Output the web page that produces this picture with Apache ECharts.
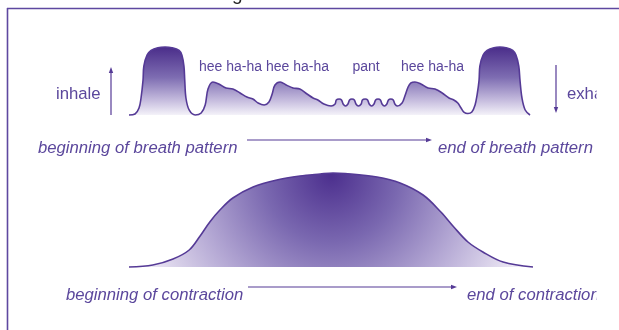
<!DOCTYPE html>
<html>
<head>
<meta charset="utf-8">
<script src="https://cdn.jsdelivr.net/npm/echarts@6/dist/echarts.min.js"></script>
<style>
  html, body { margin: 0; padding: 0; background: #ffffff; }
  #chart { width: 619px; height: 330px; }
</style>
</head>
<body>
<div id="chart"></div>
<script>
// ---- Breath pattern: time (% of pattern) vs. amplitude (%) ----
var breathTime = [
  0, 1.5, 2.5, 3.0, 3.5, 3.7, 4.5, 5.5, 7.2, 9.0, 10.7, 12.5, 13.2, 13.7, 13.9, 14.2, 15.0, 16.5,
  18.0, 19.0, 19.7, 20.9, 22.4, 24.2, 25.9, 27.7, 29.4, 30.9, 32.2, 33.7,
  34.9, 35.7, 36.4, 37.7, 39.2, 40.9, 42.6, 44.4, 45.9, 47.1, 48.6, 50.4,
  51.4, 51.7, 52.4, 53.0, 53.4, 54.0,
  54.6, 55.0, 55.6, 56.2, 56.6, 57.2,
  57.9, 58.2, 58.9, 59.5, 59.9, 60.5,
  61.1, 61.5, 62.1, 62.7, 63.1, 63.7,
  64.3, 64.7, 65.3, 65.9, 66.3, 66.9,
  68.1, 68.8, 69.6, 70.3, 71.3, 72.8, 74.6, 76.3, 78.1, 79.8, 81.0, 82.0, 82.8, 83.5,
  84.5, 85.5, 86.3, 86.8, 87.3, 87.5, 88.3, 89.3, 91.0, 92.5, 94.0, 95.7, 96.5, 97.2, 97.5, 98.0, 98.8, 100
];
var breathLevel = [
  0, 1.5, 10.3, 25, 51.5, 72, 88, 95, 99, 100, 99, 95, 88, 72, 51.5, 25, 7.4, 0,
  3, 14.7, 38.2, 48.5, 45.6, 39.7, 38.2, 32.4, 26.5, 23.5, 17.6, 14.7,
  19.1, 30.9, 44.1, 48.5, 44.1, 39.7, 38.2, 30.9, 25, 22.1, 16.2, 13.2,
  16.2, 22.1, 23.5, 22.1, 16.2, 13.2,
  16.2, 22.1, 23.5, 22.1, 16.2, 13.2,
  16.2, 22.1, 23.5, 22.1, 16.2, 13.2,
  16.2, 22.1, 23.5, 22.1, 16.2, 13.2,
  16.2, 22.1, 23.5, 22.1, 16.2, 13.2,
  17.6, 27.9, 41.2, 47.1, 48.5, 45.6, 39.7, 38.2, 32.4, 25, 22.1, 17.6, 10.3, 4.4,
  2.2, 4.4, 14.7, 29.4, 51.5, 72, 88, 95, 99, 100, 99, 95, 88, 72, 51.5, 25, 7.4, 0
];
var breathLabels = ['hee ha-ha hee ha-ha', 'pant', 'hee ha-ha'];

// ---- Contraction: time (% of contraction) vs. intensity (%) ----
var contractionTime = [0, 5.9, 10.9, 14.9, 17.6, 20.0, 22.5, 25.7, 30.7, 36.6, 42.3, 47.3, 50.5,
  53.5, 61.4, 67.1, 72.8, 77.2, 80.4, 83.9, 87.6, 92.6, 100];
var contractionLevel = [0, 2.1, 8.5, 18.1, 33.0, 47.9, 60.6, 73.4, 85.1, 92.6, 96.8, 98.9, 100,
  99.5, 95.7, 89.4, 76.6, 58.5, 42.6, 26.6, 16.0, 5.3, 0];

function pairs(xs, ys) {
  var out = [];
  for (var i = 0; i < xs.length; i++) out.push([xs[i], ys[i]]);
  return out;
}

var purple = '#553a96';
var textPurple = '#5b479c';
var font = '"Liberation Sans", Arial, Helvetica, sans-serif';

function label(text, x, y, size, italic) {
  return {
    type: 'text', left: x, top: y, z: 10,
    style: {
      text: text, fill: textPurple, font: (italic ? 'italic ' : '') + size + 'px ' + font,
      verticalAlign: 'middle', align: 'left'
    }
  };
}
function hArrow(x1, x2, y) {
  return [
    { type: 'line', z: 10, shape: { x1: x1, y1: y, x2: x2 - 5, y2: y }, style: { stroke: purple, lineWidth: 1.2 } },
    { type: 'polygon', z: 10, shape: { points: [[x2, y], [x2 - 6, y - 2.2], [x2 - 6, y + 2.2]] }, style: { fill: purple } }
  ];
}
function vArrow(x, y1, y2) { // arrow head at y2
  var dir = y2 > y1 ? 1 : -1;
  return [
    { type: 'line', z: 10, shape: { x1: x, y1: y1, x2: x, y2: y2 - dir * 5 }, style: { stroke: purple, lineWidth: 1.2 } },
    { type: 'polygon', z: 10, shape: { points: [[x, y2], [x - 2.2, y2 - dir * 6], [x + 2.2, y2 - dir * 6]] }, style: { fill: purple } }
  ];
}

var graphics = [
  // frame
  { type: 'line', z: 5, shape: { x1: 7, y1: 8.5, x2: 619, y2: 8.5 }, style: { stroke: '#5e48a0', lineWidth: 1.6 } },
  { type: 'line', z: 5, shape: { x1: 7.5, y1: 8, x2: 7.5, y2: 330 }, style: { stroke: '#5e48a0', lineWidth: 1.6 } },
  // cut-off title descender
  { type: 'text', left: 232, top: -14.5, z: 4, style: { text: 'g', fill: '#222', font: '19px ' + font } },
  label('inhale', 56, 86, 16.7, false),
  label('exhale', 567, 86, 16.7, false),
  label(breathLabels[0], 199, 60, 14, false),
  label(breathLabels[1], 352.5, 60, 14, false),
  label(breathLabels[2], 401, 60, 14, false),
  label('beginning of breath pattern', 38, 139.5, 16.7, true),
  label('end of breath pattern', 438, 139.5, 16.7, true),
  label('beginning of contraction', 66, 286.5, 16.7, true),
  label('end of contraction', 467, 286.5, 16.7, true)
].concat(vArrow(111, 115, 67), vArrow(556, 65, 113), hArrow(247, 432, 140), hArrow(248, 457, 287));
// clip text at right edge as in the reference
graphics.push({ type: 'rect', z: 20, shape: { x: 596.5, y: 11, width: 30, height: 330 }, style: { fill: '#ffffff' } });

var chart = echarts.init(document.getElementById('chart'), null, { renderer: 'canvas' });
chart.setOption({
  backgroundColor: '#ffffff',
  animation: false,
  grid: [
    { left: 129, width: 401, top: 47, height: 68 },
    { left: 129, width: 404, top: 173, height: 94 }
  ],
  xAxis: [
    { type: 'value', gridIndex: 0, min: 0, max: 100, show: false },
    { type: 'value', gridIndex: 1, min: 0, max: 100, show: false }
  ],
  yAxis: [
    { type: 'value', gridIndex: 0, min: 0, max: 100, show: false },
    { type: 'value', gridIndex: 1, min: 0, max: 100, show: false }
  ],
  series: [
    {
      type: 'line', xAxisIndex: 0, yAxisIndex: 0,
      data: pairs(breathTime, breathLevel),
      smooth: 0.35, symbol: 'none', clip: false,
      lineStyle: { color: purple, width: 1.6 },
      areaStyle: {
        origin: 'start', opacity: 1,
        color: { type: 'linear', x: 0, y: 0, x2: 0, y2: 1,
          colorStops: [{ offset: 0, color: '#4a2d8a' }, { offset: 0.45, color: '#7e6db2' }, { offset: 0.8, color: '#c9c0e0' }, { offset: 1, color: '#f4f2f9' }] }
      }
    },
    {
      type: 'line', xAxisIndex: 1, yAxisIndex: 1,
      data: pairs(contractionTime, contractionLevel),
      smooth: 0.35, symbol: 'none', clip: false,
      lineStyle: { color: purple, width: 1.6 },
      areaStyle: {
        origin: 'start', opacity: 1,
        color: { type: 'radial', x: 0.5, y: 0.02, r: 2.4,
          colorStops: [{ offset: 0, color: '#4c2f8e' }, { offset: 0.3, color: '#7a68b0' }, { offset: 0.6, color: '#b4a8d4' }, { offset: 0.85, color: '#e3ddef' }, { offset: 1, color: '#fbfafd' }] }
      }
    }
  ],
  graphic: graphics
});
</script>
</body>
</html>
